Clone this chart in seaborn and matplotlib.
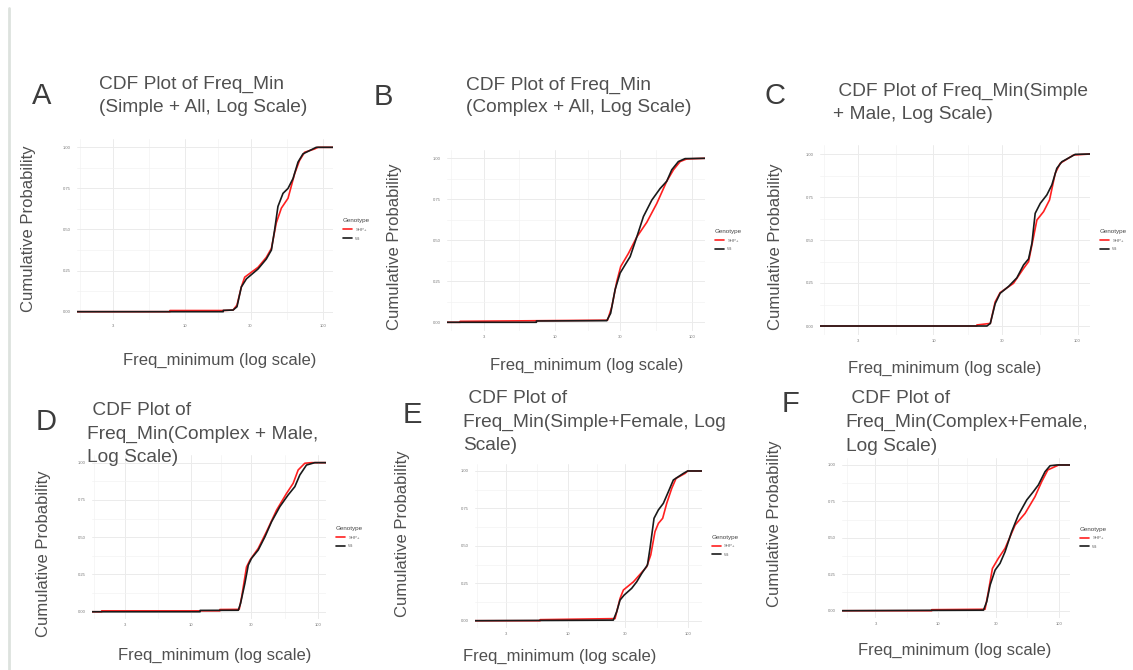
import numpy as np
import pandas as pd
import matplotlib
matplotlib.use("Agg")
import matplotlib.pyplot as plt
from matplotlib.lines import Line2D
from matplotlib.ticker import FixedLocator, NullFormatter
import seaborn as sns

# ---------------- data ----------------
genotypes = ["SHP+", "Wt"]
x_ticks = [3, 10, 30, 100]
x_minor = [1.73, 5.48, 17.3, 54.8]
y_ticks = [0.00, 0.25, 0.50, 0.75, 1.00]
y_minor = [0.125, 0.375, 0.625, 0.875]
y_tick_labels = ["0.00", "0.25", "0.50", "0.75", "1.00"]
panel_letters = ["A", "B", "C", "D", "E", "F"]
panel_titles = [
    ["CDF Plot of Freq_Min", "(Simple + All, Log Scale)"],
    ["CDF Plot of Freq_Min", "(Complex + All, Log Scale)"],
    [" CDF Plot of Freq_Min(Simple", "+ Male, Log Scale)"],
    [" CDF Plot of", "Freq_Min(Complex + Male,", "Log Scale)"],
    [" CDF Plot of", "Freq_Min(Simple+Female, Log", "Scale)"],
    [" CDF Plot of", "Freq_Min(Complex+Female,", "Log Scale)"],
]
y_label = "Cumulative Probability"
x_label = "Freq_minimum (log scale)"
legend_title = "Genotype"

# Panel A (Simple + All)
a_shp_x = [1.64, 7.8, 7.8, 19.0, 22.4, 23.9, 25.7, 27.2, 34.0, 39.0, 42.5, 46.1, 50.2, 56.1, 62.7, 68.0, 74.1, 87.5, 92.5, 119]
a_shp_y = [0, 0, 0.007, 0.007, 0.01, 0.04, 0.15, 0.21, 0.27, 0.33, 0.385, 0.54, 0.63, 0.69, 0.84, 0.92, 0.97, 0.99, 1.0, 1.0]
a_wt_x = [1.64, 19.0, 19.0, 22.4, 23.9, 25.7, 28.0, 34.0, 39.0, 42.5, 44.9, 47.4, 51.6, 56.1, 61.0, 66.3, 72.0, 89.9, 119]
a_wt_y = [0, 0, 0.008, 0.01, 0.03, 0.15, 0.20, 0.26, 0.32, 0.375, 0.50, 0.64, 0.72, 0.75, 0.81, 0.91, 0.96, 1.0, 1.0]

# Panel B (Complex + All)
b_shp_x = [1.61, 2.02, 2.02, 24.2, 26.0, 28.3, 30.2, 34.4, 39.6, 46.9, 55.5, 65.6, 73.5, 82.2, 91.8, 125]
b_shp_y = [0, 0, 0.006, 0.013, 0.095, 0.25, 0.34, 0.42, 0.52, 0.61, 0.725, 0.86, 0.93, 0.98, 0.996, 1.0]
b_wt_x = [1.61, 7.3, 7.3, 23.9, 25.5, 27.5, 29.9, 32.5, 35.4, 39.6, 44.3, 51.0, 58.6, 65.6, 71.4, 79.8, 89.3, 125]
b_wt_y = [0, 0, 0.008, 0.01, 0.055, 0.20, 0.30, 0.35, 0.40, 0.52, 0.645, 0.745, 0.815, 0.86, 0.93, 0.98, 0.998, 1.0]

# Panel C (Simple + Male)
c_shp_x = [1.63, 20.0, 20.0, 24.8, 26.8, 29.0, 35.9, 42.2, 45.7, 49.0, 52.2, 58.1, 63.9, 70.0, 75.8, 93.8, 122]
c_shp_y = [0, 0, 0.006, 0.015, 0.14, 0.194, 0.248, 0.335, 0.374, 0.50, 0.616, 0.665, 0.733, 0.888, 0.946, 0.994, 1.0]
c_wt_x = [1.63, 23.5, 24.8, 26.8, 29.0, 33.2, 37.9, 42.2, 45.7, 48.2, 50.8, 55.1, 61.2, 66.3, 71.8, 77.8, 96.3, 122]
c_wt_y = [0, 0, 0.015, 0.13, 0.19, 0.23, 0.28, 0.355, 0.39, 0.48, 0.655, 0.713, 0.762, 0.82, 0.917, 0.955, 0.998, 1.0]

# Panel D (Complex + Male)
d_shp_x = [1.65, 1.98, 1.98, 16.9, 16.9, 24.0, 25.1, 27.4, 29.2, 33.9, 39.4, 47.3, 56.7, 63.9, 70.0, 79.0, 89.0, 116]
d_shp_y = [0, 0, 0.006, 0.006, 0.015, 0.016, 0.10, 0.30, 0.347, 0.425, 0.537, 0.682, 0.794, 0.861, 0.951, 0.996, 1.0, 1.0]
d_wt_x = [1.65, 11.8, 11.8, 23.6, 24.6, 26.6, 28.3, 30.0, 33.9, 38.3, 43.2, 50.2, 58.3, 65.9, 72.1, 81.4, 94.6, 116]
d_wt_y = [0, 0, 0.009, 0.01, 0.056, 0.19, 0.313, 0.358, 0.414, 0.503, 0.604, 0.705, 0.783, 0.839, 0.917, 0.984, 1.0, 1.0]

# Panel E (Simple + Female)
e_shp_x = [1.65, 5.8, 5.8, 24.6, 27.1, 28.9, 35.1, 45.3, 49.0, 53.2, 56.8, 61.7, 66.7, 73.5, 79.9, 95.1, 100, 131]
e_shp_y = [0, 0, 0.007, 0.014, 0.149, 0.205, 0.26, 0.36, 0.439, 0.595, 0.65, 0.684, 0.784, 0.884, 0.951, 0.984, 1.0, 1.0]
e_wt_x = [1.65, 23.8, 25.4, 27.1, 29.3, 33.9, 37.4, 41.2, 46.0, 48.3, 52.2, 56.8, 62.5, 68.9, 75.8, 92.0, 100, 131]
e_wt_y = [0, 0.004, 0.06, 0.138, 0.171, 0.216, 0.26, 0.316, 0.372, 0.483, 0.684, 0.74, 0.784, 0.862, 0.94, 0.984, 1.0, 1.0]

# Panel F (Complex + Female)
f_shp_x = [1.59, 8.8, 8.8, 24.4, 26.0, 28.1, 31.5, 35.8, 43.4, 52.5, 63.5, 72.2, 81.1, 93.3, 100, 124]
f_shp_y = [0, 0, 0.007, 0.01, 0.13, 0.29, 0.36, 0.428, 0.588, 0.668, 0.783, 0.886, 0.966, 0.989, 1.0, 1.0]
f_wt_x = [1.59, 23.7, 25.2, 26.9, 29.6, 32.5, 35.8, 40.6, 46.2, 54.2, 61.5, 67.7, 76.9, 84.7, 96.2, 124]
f_wt_y = [0, 0.004, 0.062, 0.176, 0.279, 0.325, 0.405, 0.542, 0.657, 0.76, 0.817, 0.863, 0.954, 0.995, 1.0, 1.0]

panel_series = [
    (a_shp_x, a_shp_y, a_wt_x, a_wt_y),
    (b_shp_x, b_shp_y, b_wt_x, b_wt_y),
    (c_shp_x, c_shp_y, c_wt_x, c_wt_y),
    (d_shp_x, d_shp_y, d_wt_x, d_wt_y),
    (e_shp_x, e_shp_y, e_wt_x, e_wt_y),
    (f_shp_x, f_shp_y, f_wt_x, f_wt_y),
]

# ---------------- layout (pixels in a 1133x670 canvas) ----------------
W, H = 1133, 670
# axes boxes: left, top, right, bottom
ax_boxes = [
    (76.7, 139.1, 333.0, 319.9),
    (446.7, 150.1, 705.0, 330.5),
    (820.0, 145.4, 1090.0, 334.6),
    (91.7, 455.2, 326.0, 619.2),
    (475.0, 463.5, 701.7, 628.2),
    (842.3, 457.7, 1070.0, 618.0),
]
letter_pos = [(42, 96), (383, 97), (775, 96), (46, 422), (412, 415), (790, 404)]
title_pos = [  # (left x, first line center y, line step)
    (99.3, 84, 23), (466, 85, 23), (832.7, 91.7, 22.5),
    (87, 411, 23.5), (463.3, 398.5, 23.5), (845.7, 398.5, 24),
]
ylabel_pos = [(28.3, 228.3), (395, 246.7), (775.7, 246.7), (43.3, 553.3), (402.3, 533.3), (775, 523.3)]
xlabel_pos = [(220, 360), (586.7, 365), (945, 368.3), (215, 655), (560, 656.7), (955, 650)]

sns.set_theme(style="white")
plt.rcParams["font.family"] = ["Liberation Sans", "DejaVu Sans"]

fig = plt.figure(figsize=(W / 100, H / 100), dpi=100)
fig.patch.set_facecolor("white")

def fx(x):
    return x / W

def fy(y):
    return 1 - y / H

palette = {"SHP+": "#ff2020", "Wt": "#1a1a1a"}
text_col = "#505050"

for i in range(6):
    l, t, r, b = ax_boxes[i]
    ax = fig.add_axes([fx(l), fy(b), (r - l) / W, (b - t) / H])
    sx, sy, wx, wy = panel_series[i]
    df = pd.concat([
        pd.DataFrame({"x": sx, "y": sy, "Genotype": genotypes[0]}),
        pd.DataFrame({"x": wx, "y": wy, "Genotype": genotypes[1]}),
    ], ignore_index=True)
    sns.lineplot(data=df, x="x", y="y", hue="Genotype", hue_order=genotypes,
                 palette=palette, sort=False, estimator=None, lw=1.2, ax=ax)
    ax.set_xscale("log")
    ax.set_xlim(min(min(sx), min(wx)), max(max(sx), max(wx)))
    ax.set_ylim(-0.05, 1.05)
    ax.set_xticks(x_ticks, labels=[str(v) for v in x_ticks])
    ax.xaxis.set_minor_locator(FixedLocator(x_minor))
    ax.xaxis.set_minor_formatter(NullFormatter())
    ax.set_yticks(y_ticks, labels=y_tick_labels)
    ax.yaxis.set_minor_locator(FixedLocator(y_minor))
    ax.grid(which="major", color="#ebebeb", lw=0.7)
    ax.grid(which="minor", color="#f3f3f3", lw=0.5)
    ax.set_axisbelow(True)
    for s in ax.spines.values():
        s.set_visible(False)
    ax.tick_params(which="both", length=0)
    ax.tick_params(axis="y", labelsize=3, labelcolor="#777777", pad=4.5)
    ax.tick_params(axis="x", labelsize=3, labelcolor="#777777", pad=3)
    ax.set_xlabel("")
    ax.set_ylabel("")
    ax.set_facecolor("white")
    sns.move_legend(ax, "center left",
                    bbox_to_anchor=(1 + 10 / (r - l), 0.5),
                    frameon=False, title=legend_title, fontsize=3.2,
                    title_fontsize=4.5, handlelength=2.0, handletextpad=0.8,
                    labelspacing=1.0, borderaxespad=0, borderpad=0,
                    alignment="left")
    leg = ax.get_legend()
    for ln in leg.get_lines():
        ln.set_linewidth(1.2)
    for txt in leg.get_texts():
        txt.set_color("#666666")
    leg.get_title().set_color("#444444")

    # letters, titles, axis labels
    fig.text(fx(letter_pos[i][0]), fy(letter_pos[i][1]), panel_letters[i],
             fontsize=21, color="#3c3c3c", ha="center", va="center")
    tx, ty, step = title_pos[i]
    for k, line in enumerate(panel_titles[i]):
        fig.text(fx(tx), fy(ty + k * step), line, fontsize=13.8,
                 color=text_col, ha="left", va="center")
    fig.text(fx(ylabel_pos[i][0]), fy(ylabel_pos[i][1]), y_label, fontsize=12,
             color=text_col, rotation=90, ha="center", va="center")
    fig.text(fx(xlabel_pos[i][0]), fy(xlabel_pos[i][1]), x_label, fontsize=12,
             color=text_col, ha="center", va="center")

# light vertical border at the left edge of the picture
fig.add_artist(Line2D([fx(8.7), fx(8.7)], [fy(8), fy(670)], color="#dde2de", lw=2))

fig.savefig("out.png", dpi=100, facecolor="white")
